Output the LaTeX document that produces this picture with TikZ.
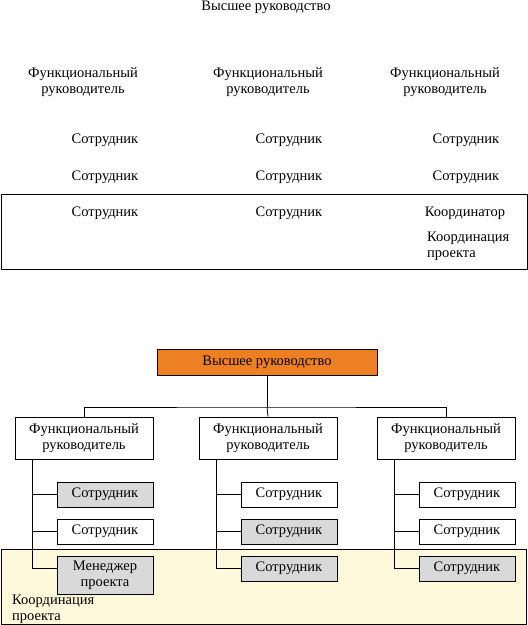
\documentclass[tikz,border=0pt]{standalone}
\usepackage{fontspec}
\setmainfont{Liberation Serif}
\definecolor{orng}{RGB}{238,128,36}
\definecolor{grayb}{RGB}{217,217,217}
\definecolor{yel}{RGB}{255,249,219}
\begin{document}
\begin{tikzpicture}[x=1pt,y=-1pt, font=\fontsize{14.5}{16}\selectfont,
 lbl/.style={inner sep=0pt, align=center},
 box/.style={draw, line width=0.8pt, inner sep=0pt, align=center},
 frbox/.style={box, fill=white, minimum width=138pt, minimum height=42pt},
 emp/.style={box, fill=white, minimum width=96pt, minimum height=25pt},
 empg/.style={emp, fill=grayb},
 conn/.style={line width=0.8pt}]
\useasboundingbox (0,0) rectangle (528,625);
% ---------- upper picture ----------
\node[lbl] (th) at (266,7) {Высшее руководство};
\node[lbl] (tf1) at (83,82) {Функциональный\\руководитель};
\node[lbl] (tf2) at (268,82) {Функциональный\\руководитель};
\node[lbl] (tf3) at (445,82) {Функциональный\\руководитель};
\node[lbl] (t11) at (105,140) {Сотрудник};
\node[lbl] (t21) at (289,140) {Сотрудник};
\node[lbl] (t31) at (466,140) {Сотрудник};
\node[lbl] (t12) at (105,177) {Сотрудник};
\node[lbl] (t22) at (289,177) {Сотрудник};
\node[lbl] (t32) at (466,177) {Сотрудник};
\node[lbl] (t13) at (105,213) {Сотрудник};
\node[lbl] (t23) at (289,213) {Сотрудник};
\node[lbl] (t33) at (465,213) {Координатор};
\node[lbl, align=left, anchor=west] (tkp) at (427,246) {Координация\\проекта};
\draw[conn] (1,194) rectangle (527,269);
% ---------- lower picture ----------
\fill[yel] (1,549) rectangle (526,624);
\draw[conn] (1,549) rectangle (526,624);
\node[lbl, align=left, anchor=west] (bkp) at (12,609) {Координация\\проекта};
\node[box, fill=orng, minimum width=220pt, minimum height=26pt] (bh) at (267,362) {Высшее руководство};
\node[frbox] (fr1) at (84,438) {Функциональный\\руководитель};
\node[frbox] (fr2) at (268,438) {Функциональный\\руководитель};
\node[frbox] (fr3) at (446,438) {Функциональный\\руководитель};
\node[empg] (e11) at (105,494.5) {Сотрудник};
\node[emp]  (e12) at (105,531.5) {Сотрудник};
\node[empg, minimum height=38pt] (m) at (105,575) {Менеджер\\проекта};
\node[emp]  (e21) at (289,494.5) {Сотрудник};
\node[empg] (e22) at (289,531.5) {Сотрудник};
\node[empg] (e23) at (289,568.5) {Сотрудник};
\node[emp]  (e31) at (467,494.5) {Сотрудник};
\node[emp]  (e32) at (467,531.5) {Сотрудник};
\node[empg] (e33) at (467,568.5) {Сотрудник};
% connectors
\coordinate (bus) at (bh.south |- 0,407);
\draw[conn] (bh.south) -- (bus);
\draw[conn] (fr1.north) |- (bus) -| (fr3.north);
\draw[conn] (bus) -- (fr2.north);
\coordinate (v1) at ([xshift=18pt]fr1.south west);
\coordinate (v2) at ([xshift=18pt]fr2.south west);
\coordinate (v3) at ([xshift=18pt]fr3.south west);
\draw[conn] (v1) |- (m.west |- e23.west);
\draw[conn] (v1 |- e11.west) -- (e11.west);
\draw[conn] (v1 |- e12.west) -- (e12.west);
\draw[conn] (v2) |- (e23.west);
\draw[conn] (v2 |- e21.west) -- (e21.west);
\draw[conn] (v2 |- e22.west) -- (e22.west);
\draw[conn] (v3) |- (e33.west);
\draw[conn] (v3 |- e31.west) -- (e31.west);
\draw[conn] (v3 |- e32.west) -- (e32.west);
\end{tikzpicture}
\end{document}
